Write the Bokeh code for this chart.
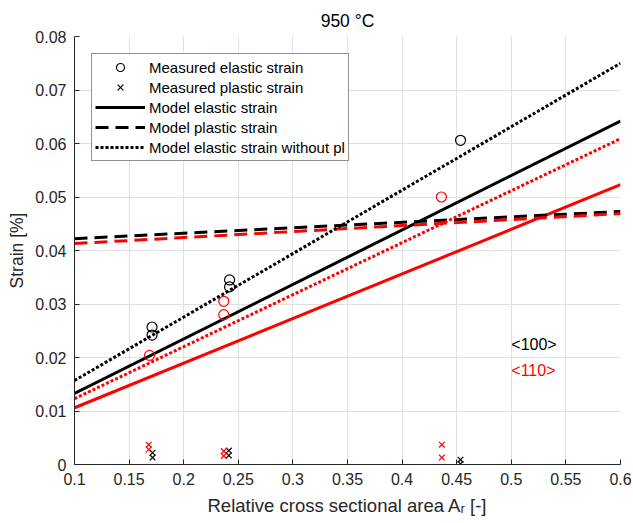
from bokeh.plotting import figure
from bokeh.models import Label, Legend, LegendItem, FixedTicker
from bokeh.embed import file_html
from bokeh.resources import INLINE

# ---------------- data ----------------
x_ticks = [0.1, 0.15, 0.2, 0.25, 0.3, 0.35, 0.4, 0.45, 0.5, 0.55, 0.6]
x_tick_labels = ["0.1", "0.15", "0.2", "0.25", "0.3", "0.35", "0.4", "0.45", "0.5", "0.55", "0.6"]
y_ticks = [0, 0.01, 0.02, 0.03, 0.04, 0.05, 0.06, 0.07, 0.08]
y_tick_labels = ["0", "0.01", "0.02", "0.03", "0.04", "0.05", "0.06", "0.07", "0.08"]

# measured elastic strain
el_x_100 = [0.171, 0.171, 0.242, 0.242, 0.4535]
el_y_100 = [0.0257, 0.0242, 0.0345, 0.0332, 0.0606]
el_x_110 = [0.1687, 0.2367, 0.2367, 0.436]
el_y_110 = [0.0204, 0.0305, 0.0280, 0.0500]

# measured plastic strain
pl_x_100 = [0.1715, 0.1715, 0.2413, 0.2413, 0.4535, 0.4535]
pl_y_100 = [0.0022, 0.0013, 0.0026, 0.0017, 0.0009, 0.0001]
pl_x_110 = [0.168, 0.168, 0.2367, 0.2367, 0.4364, 0.4364]
pl_y_110 = [0.0037, 0.0028, 0.0025, 0.0016, 0.0037, 0.0013]

# model curves
model_x = [0.1, 0.6]
model_el_100 = [0.0133, 0.0642]
model_el_110 = [0.0106, 0.0523]
model_pl_100 = [0.0422, 0.0473]
model_pl_110 = [0.0413, 0.0469]
model_elnopl_100 = [0.0157, 0.0750]
model_elnopl_110 = [0.0123, 0.0609]

legend_labels = ["Measured elastic strain", "Measured plastic strain", "Model elastic strain",
                 "Model plastic strain", "Model elastic strain without pl"]
orient_labels = ["<100>", "<110>"]
orient_colors = ["black", "#ff0000"]
orient_pos_x = [0.5, 0.5]
orient_pos_y = [0.0224, 0.0176]

title_text = "950 °C"
ylabel_text = "Strain [%]"
xlabel_text = "Relative cross sectional area A\u1d63 [-]"

FONT = "Liberation Sans"
AX = "#262626"
RED = "#ff0000"

p = figure(width=633, height=523, x_range=(0.1, 0.6), y_range=(0, 0.08),
           output_backend="svg", toolbar_location=None,
           min_border_left=74, min_border_right=13, min_border_top=36, min_border_bottom=59)

p.title.text = title_text
p.title.align = "center"
p.title.text_font = FONT
p.title.text_font_size = "17.5px"
p.title.text_font_style = "normal"
p.title.text_color = "black"
p.title.standoff = 12

p.outline_line_color = None
p.background_fill_color = "white"
p.border_fill_color = "white"

# axes
p.xaxis.ticker = FixedTicker(ticks=x_ticks)
p.yaxis.ticker = FixedTicker(ticks=y_ticks)
p.xaxis.major_label_overrides = {t: l for t, l in zip(x_ticks, x_tick_labels)}
p.yaxis.major_label_overrides = {t: l for t, l in zip(y_ticks, y_tick_labels)}
for ax in (p.xaxis, p.yaxis):
    ax.major_tick_in = 5
    ax.major_tick_out = 0
    ax.minor_tick_line_color = None
    ax.axis_line_color = AX
    ax.major_tick_line_color = AX
    ax.major_label_text_font = FONT
    ax.major_label_text_font_size = "16px"
    ax.major_label_text_color = AX
    ax.major_label_standoff = 8
    ax.axis_label_text_font = FONT
    ax.axis_label_text_font_style = "normal"
    ax.axis_label_text_color = AX

p.yaxis.axis_label = ylabel_text
p.yaxis.axis_label_text_font_size = "17.5px"
p.yaxis.axis_label_standoff = 5
p.xaxis.axis_label = xlabel_text
p.xaxis.axis_label_text_font_size = "18.5px"
p.xaxis.axis_label_standoff = 7

p.xgrid.grid_line_color = "#e0e0e0"
p.ygrid.grid_line_color = "#e0e0e0"

# model lines
LW = 3
r_el = p.line(model_x, model_el_100, line_color="black", line_width=LW)
p.line(model_x, model_el_110, line_color=RED, line_width=LW)
r_pl = p.line(model_x, model_pl_100, line_color="black", line_width=LW, line_dash="13 7")
p.line(model_x, model_pl_110, line_color=RED, line_width=LW, line_dash="13 7")
r_np = p.line(model_x, model_elnopl_100, line_color="black", line_width=LW, line_dash="3 2")
p.line(model_x, model_elnopl_110, line_color=RED, line_width=LW, line_dash="3 2")

# measured points
r_mel = p.scatter(el_x_100, el_y_100, marker="circle", size=10, fill_color=None,
                  line_color="black", line_width=1.2)
p.scatter(el_x_110, el_y_110, marker="circle", size=10, fill_color=None,
          line_color=RED, line_width=1.2)
r_mpl = p.scatter(pl_x_100, pl_y_100, marker="x", size=8, line_color="black", line_width=1.2)
p.scatter(pl_x_110, pl_y_110, marker="x", size=8, line_color=RED, line_width=1.2)

# orientation labels
for t, c, xx, yy in zip(orient_labels, orient_colors, orient_pos_x, orient_pos_y):
    p.add_layout(Label(x=xx, y=yy, text=t, text_color=c, text_font=FONT,
                       text_font_size="16px", text_align="left", text_baseline="middle"))

# legend
renderers = [r_mel, r_mpl, r_el, r_pl, r_np]
legend = Legend(items=[LegendItem(label=l, renderers=[r]) for l, r in zip(legend_labels, renderers)],
                location="top_left", margin=17, padding=3, spacing=0,
                glyph_width=50, glyph_height=20, label_height=20, label_standoff=4,
                label_text_font=FONT, label_text_font_size="15px", label_text_color="black",
                border_line_color=AX, border_line_width=1, background_fill_color="white",
                background_fill_alpha=1.0)
p.add_layout(legend, "center")

open("out.html", "w").write(file_html(p, INLINE))
